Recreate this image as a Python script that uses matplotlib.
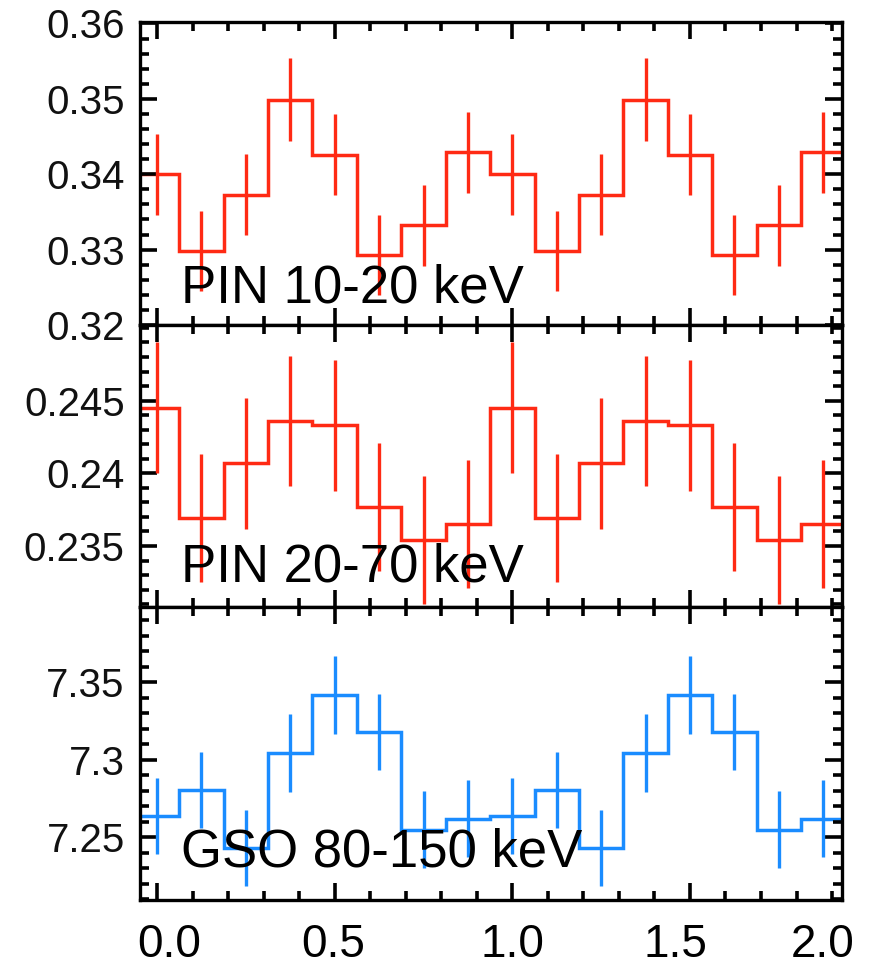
"""Folded pulse profiles for the PIN and GSO bands, two cycles each."""

import numpy as np
import matplotlib
matplotlib.use("Agg")
import matplotlib.pyplot as plt
from matplotlib.ticker import FixedLocator, MultipleLocator, FuncFormatter

plt.rcParams["font.family"] = ["Liberation Sans", "DejaVu Sans"]

# Phase bin centres for one cycle (8 bins)
PHASE_BINS = [0.0, 0.125, 0.25, 0.375, 0.5, 0.625, 0.75, 0.875]

# Count rates and 1-sigma errors per phase bin
PIN_LO_RATE = [0.3400, 0.3298, 0.3373, 0.3499, 0.3426, 0.3293, 0.3332, 0.3429]
PIN_LO_ERR = [0.0054, 0.0053, 0.0054, 0.0055, 0.0054, 0.0053, 0.0054, 0.0054]

PIN_HI_RATE = [0.2445, 0.2369, 0.2407, 0.2436, 0.2433, 0.2377, 0.2354, 0.2365]
PIN_HI_ERR = [0.0045, 0.0044, 0.0045, 0.0045, 0.0045, 0.0044, 0.0044, 0.0044]

GSO_RATE = [7.2638, 7.2804, 7.2431, 7.3044, 7.3419, 7.3178, 7.2550, 7.2620]
GSO_ERR = [0.0245, 0.0247, 0.0247, 0.0250, 0.0252, 0.0247, 0.0249, 0.0247]

BAND_LABELS = ["PIN 10-20 keV", "PIN 20-70 keV", "GSO 80-150 keV"]
XTICK_TEXT = ["0.0", "0.5", "1.0", "1.5", "2.0"]
XTICK_TEXT_POS = [0.034, 0.496, 1.0, 1.459, 1.873]

RED = "#ff2a14"
BLUE = "#1a8cff"
X_RANGE = (-0.048, 1.928)
BIN_HALF = 0.0625


def two_cycles(vals, shift=0.0):
    vals = np.asarray(vals, dtype=float)
    return np.concatenate([vals, vals + shift])


def plot_profile(ax, rate, err, color, ylim, majors, minor_step, label,
                 label_y):
    phase = two_cycles(PHASE_BINS, shift=1.0)
    rate = two_cycles(rate)
    err = two_cycles(err)
    edges = np.append(phase - BIN_HALF, phase[-1] + BIN_HALF)

    ax.stairs(rate, edges, baseline=None, color=color, linewidth=2.5)
    ax.errorbar(phase, rate, yerr=err, fmt="none", ecolor=color,
                elinewidth=2.4, capsize=0)

    ax.set_xlim(X_RANGE)
    ax.set_ylim(ylim)
    ax.xaxis.set_major_locator(FixedLocator([0.0, 0.5, 1.0, 1.5]))
    ax.xaxis.set_minor_locator(MultipleLocator(0.1))
    ax.yaxis.set_major_locator(FixedLocator(majors))
    ax.yaxis.set_minor_locator(MultipleLocator(minor_step))
    ax.yaxis.set_major_formatter(FuncFormatter(lambda v, p: f"{v:g}"))

    ax.tick_params(which="both", direction="in", top=True, right=True,
                   width=2.6, color="black", labelbottom=False)
    ax.tick_params(which="major", length=12, labelsize=29, pad=11,
                   labelcolor="#111111")
    ax.tick_params(which="minor", length=6.5)
    for sp in ax.spines.values():
        sp.set_linewidth(2.4)

    ax.text(0.058, label_y, label, transform=ax.transAxes, fontsize=38,
            va="baseline", ha="left", zorder=5)


fig = plt.figure(figsize=(8.74, 9.68), dpi=100)
ax1 = fig.add_axes([0.1602, 0.6643, 0.8032, 0.3130])
ax2 = fig.add_axes([0.1602, 0.3729, 0.8032, 0.2913])
ax3 = fig.add_axes([0.1602, 0.0702, 0.8032, 0.3027])

plot_profile(ax1, PIN_LO_RATE, PIN_LO_ERR, RED, (0.32, 0.3602),
             [0.32, 0.33, 0.34, 0.35, 0.36], 0.002, BAND_LABELS[0], 0.073)
plot_profile(ax2, PIN_HI_RATE, PIN_HI_ERR, RED, (0.2308, 0.2502),
             [0.235, 0.24, 0.245], 0.001, BAND_LABELS[1], 0.089)
plot_profile(ax3, GSO_RATE, GSO_ERR, BLUE, (7.2095, 7.3985),
             [7.25, 7.3, 7.35], 0.01, BAND_LABELS[2], 0.113)

# phase labels under the bottom panel
for txt, pos in zip(XTICK_TEXT, XTICK_TEXT_POS):
    ax3.text(pos, -0.195, txt, transform=ax3.get_xaxis_transform(),
             fontsize=33, ha="center", va="baseline", clip_on=False)

fig.savefig("out.png", dpi=100)
